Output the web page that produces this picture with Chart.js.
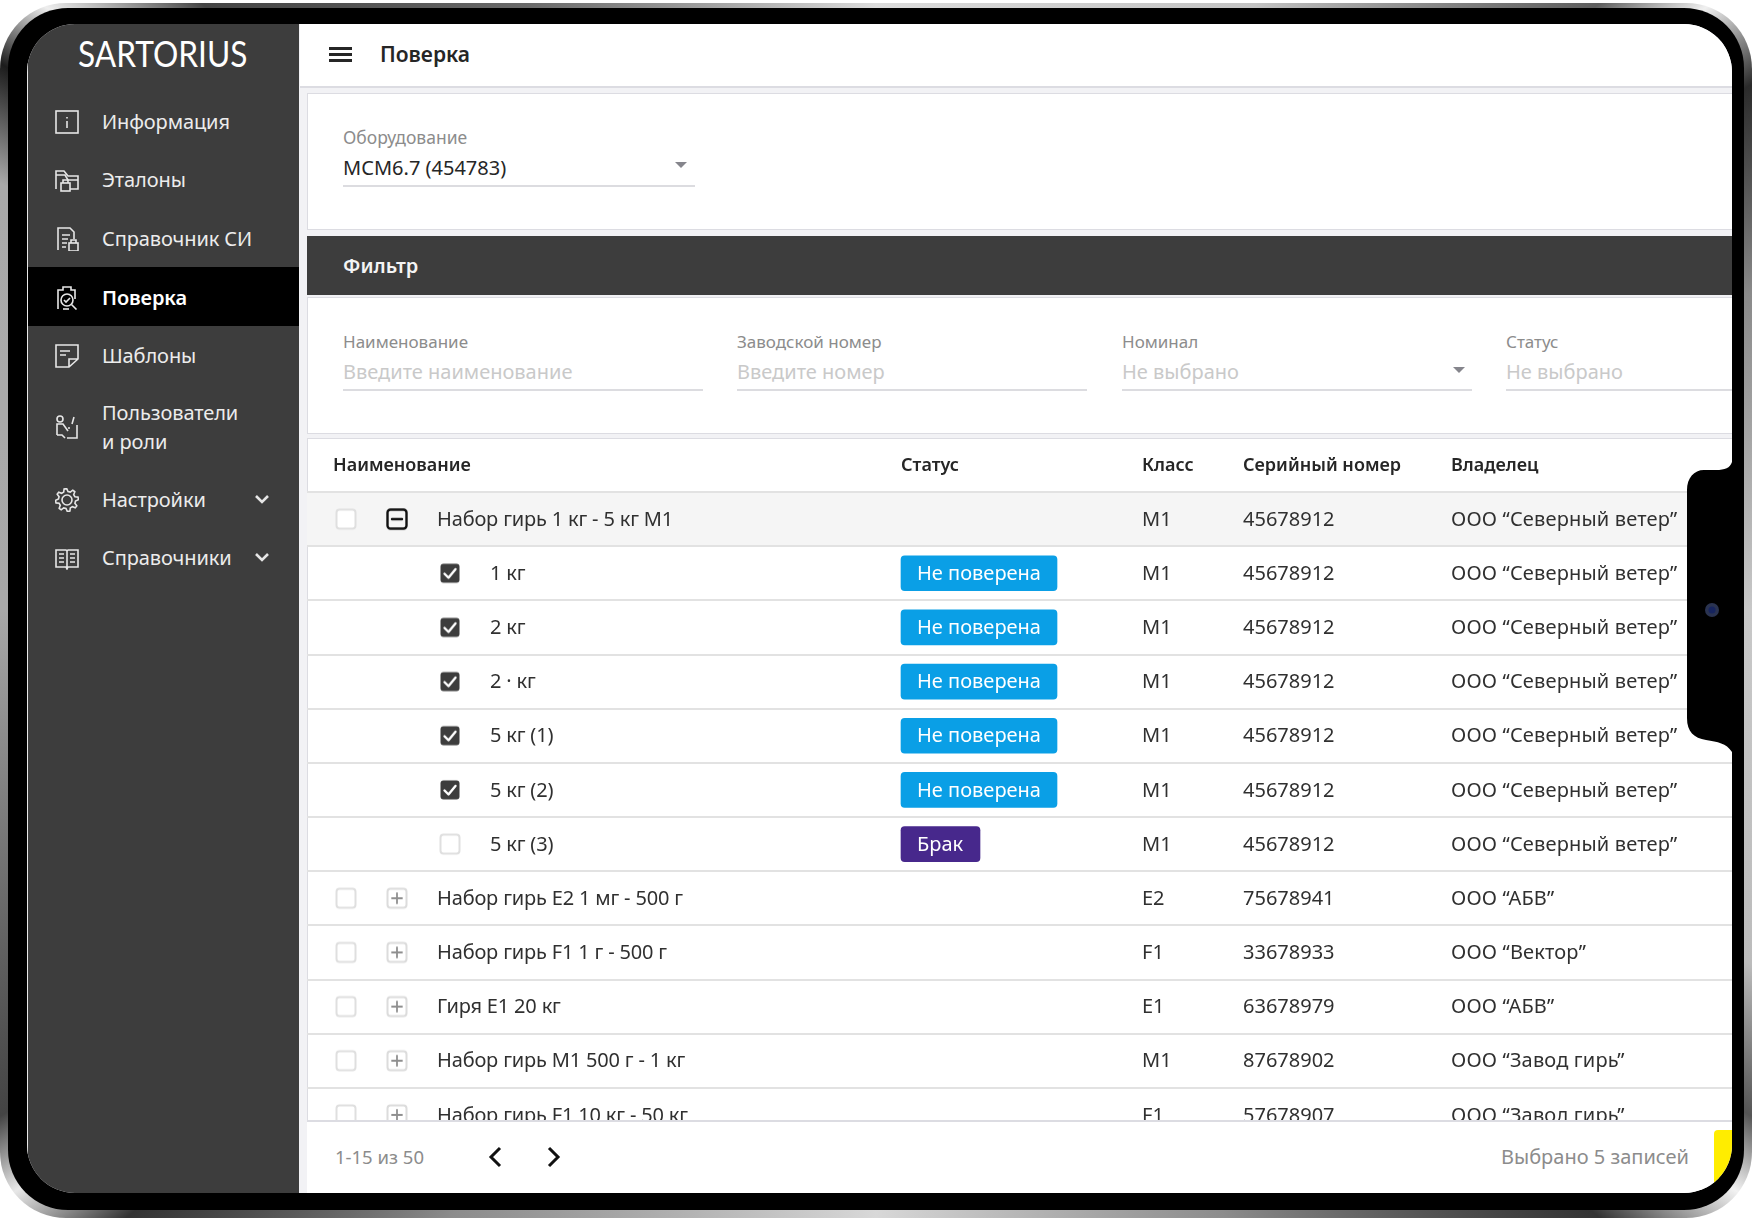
<!DOCTYPE html>
<html lang="ru">
<head>
<meta charset="utf-8">
<title>Поверка</title>
<script src="https://cdn.jsdelivr.net/npm/chart.js@4"></script>
<style>
    html, body { margin: 0; padding: 0; background: #fff; }
    body { width: 1753px; height: 1219px; position: relative; overflow: hidden; font-family: "Noto Sans", sans-serif; color: #262626; }
    .abs { position: absolute; }
    .t { position: absolute; white-space: nowrap; transform: translateY(-50%); line-height: 1.2; }

    /* корпус планшета */
    #frame { position: absolute; left: 0; top: 3px; width: 1752px; height: 1215px; border-radius: 66px;
        background: conic-gradient(#dcdcdc 0deg, #c4c4c4 32deg, #5e5e5e 50deg, #f0f0f0 54deg, #2b2b2b 59deg, #8a8a8a 70deg, #c8c8c8 90deg, #bcbcbc 112deg, #555 120deg, #f2f2f2 124deg, #333 130deg, #8c8c8c 150deg, #d8d8d8 180deg, #8c8c8c 215deg, #333 231deg, #e8e8e8 236deg, #444 240deg, #a8a8a8 270deg, #aaa 296deg, #1c1c1c 302deg, #eee 306deg, #444 312deg, #6a6a6a 330deg, #dcdcdc 360deg); }
    #bezel { position: absolute; left: 8px; top: 8px; width: 1736px; height: 1202px; border-radius: 60px; background: #000; }
    #screen { position: absolute; left: 0; top: 0; width: 1753px; height: 1219px; background: #f2f2f5; clip-path: inset(24px 21px 26px 27px round 48px); }

    #sidebar { position: absolute; left: 27px; top: 24px; width: 272px; height: 1169px; background: #3d3d3d; border-left: 1px solid #e8e8e8; box-sizing: border-box; }
    .nav { color: #ececec; font-size: 20px; left: 102px; letter-spacing: -0.1px; }
    #activeBand { position: absolute; left: 28px; top: 267px; width: 271px; height: 59px; background: #000; }
    .card { position: absolute; left: 307px; width: 1425px; background: #fff; box-sizing: border-box; border: 1px solid #dcdce2; border-right: 0; }
    .lbl { color: #8c8c8c; font-size: 17px; }
    .ph { color: #c9c9c9; font-size: 20px; }
    .line { position: absolute; height: 2px; background: #dcdce0; }
    .arrow { position: absolute; width: 0; height: 0; border-left: 6px solid transparent; border-right: 6px solid transparent; border-top: 6px solid #85858c; }
    #chartBox { position: absolute; left: 307px; top: 439px; width: 1425px; height: 703px; }
    #footer { position: absolute; left: 307px; top: 1120px; width: 1425px; height: 73px; background: #fff; border-top: 2px solid #dcdce2; box-sizing: border-box; }
    #notch { position: absolute; left: 1680px; top: 462px; width: 60px; height: 290px; }
    svg.icon { position: absolute; fill: none; stroke: #e6e6e6; stroke-width: 1.6; }
</style>
</head>
<body>
<div id="frame"></div>
<div id="bezel"></div>
<div id="screen">
    <div id="sidebar"></div>
    <div id="activeBand"></div>
    <div class="t" id="logo" style="left:78px;top:53px;font-family:Lato;font-weight:400;font-size:37px;color:#fff;transform:translateY(-50%) scaleX(0.855);transform-origin:left center;">SARTORIUS</div>
    <div id="nav"></div>

    <!-- верхняя панель -->
    <div class="abs" style="left:300px;top:24px;width:1432px;height:62px;background:#fff;border-bottom:2px solid #dcdce2;"></div>
    <div class="abs" style="left:329px;top:47px;width:23px;height:2.5px;background:#262626;"></div>
    <div class="abs" style="left:329px;top:53px;width:23px;height:2.5px;background:#262626;"></div>
    <div class="abs" style="left:329px;top:59px;width:23px;height:2.5px;background:#262626;"></div>
    <div class="t" style="left:380px;top:54.5px;font-size:21px;font-weight:600;color:#262626;">Поверка</div>

    <!-- оборудование -->
    <div class="card" style="top:93px;height:137px;"></div>
    <div class="t lbl" style="left:343px;top:137px;font-size:17.5px;">Оборудование</div>
    <div class="t" style="left:343px;top:167.5px;font-size:20px;color:#262626;">МСМ6.7 (454783)</div>
    <div class="line" style="left:343px;top:185px;width:352px;"></div>
    <div class="arrow" style="left:675px;top:162px;"></div>

    <!-- фильтр -->
    <div class="abs" style="left:307px;top:236px;width:1425px;height:59px;background:#3d3d3d;"></div>
    <div class="t" style="left:343px;top:266px;font-size:20px;font-weight:600;color:#f4f4f4;">Фильтр</div>
    <div class="card" style="top:297px;height:137px;"></div>
    <div class="t lbl" style="left:343px;top:342px;">Наименование</div>
    <div class="t ph" style="left:343px;top:372px;">Введите наименование</div>
    <div class="line" style="left:343px;top:389px;width:360px;"></div>
    <div class="t lbl" style="left:737px;top:342px;">Заводской номер</div>
    <div class="t ph" style="left:737px;top:372px;">Введите номер</div>
    <div class="line" style="left:737px;top:389px;width:350px;"></div>
    <div class="t lbl" style="left:1122px;top:342px;">Номинал</div>
    <div class="t ph" style="left:1122px;top:372px;">Не выбрано</div>
    <div class="line" style="left:1122px;top:389px;width:350px;"></div>
    <div class="arrow" style="left:1453px;top:367px;"></div>
    <div class="t lbl" style="left:1506px;top:342px;">Статус</div>
    <div class="t ph" style="left:1506px;top:372px;">Не выбрано</div>
    <div class="line" style="left:1506px;top:389px;width:226px;"></div>

    <!-- таблица -->
    <div class="card" style="top:438px;height:700px;"></div>
    <div id="chartBox"><canvas id="tableChart"></canvas></div>

    <div id="footer"></div>
    <div class="t" style="left:335px;top:1157px;font-size:18.5px;color:#8c8c8c;">1-15 из 50</div>
    <svg class="icon" style="left:486px;top:1145px;stroke:#111;stroke-width:3;" width="20" height="24"><path d="M14 3 L5 12 L14 21"/></svg>
    <svg class="icon" style="left:543px;top:1145px;stroke:#111;stroke-width:3;" width="20" height="24"><path d="M6 3 L15 12 L6 21"/></svg>
    <div class="t" style="left:1501px;top:1157px;font-size:20px;color:#8c8c8c;">Выбрано 5 записей</div>
    <div class="abs" style="left:1714px;top:1130px;width:20px;height:55px;background:#ffed00;border-radius:4px 0 0 4px;"></div>
</div>

<!-- выступ с камерой -->
<svg id="notch" viewBox="0 0 60 290">
    <path fill="#000" d="M60 0 L52 0 C50 6 45 8 36 8 L24 8 C14 8 7 16 7 28 L7 256 C7 270 14 276 26 278 C38 280 46 281 52 290 L60 290 Z"/>
    <circle cx="32" cy="148" r="7" fill="#2a3350"/>
    <circle cx="32" cy="148" r="3.5" fill="#16245e"/>
</svg>

<script>
// Данные таблицы
const columnHeaders = ['Наименование', 'Статус', 'Класс', 'Серийный номер', 'Владелец'];
const rowNames = [
    'Набор гирь 1 кг - 5 кг М1', '1 кг', '2 кг', '2 · кг', '5 кг (1)', '5 кг (2)', '5 кг (3)',
    'Набор гирь Е2 1 мг - 500 г', 'Набор гирь F1 1 г - 500 г', 'Гиря Е1 20 кг',
    'Набор гирь М1 500 г - 1 кг', 'Набор гирь F1 10 кг - 50 кг'
];
const rowParents = [true, false, false, false, false, false, false, true, true, true, true, true];
const rowChecked = [false, true, true, true, true, true, false, false, false, false, false, false];
const rowExpanded = [true, null, null, null, null, null, null, false, false, false, false, false];
const rowStatuses = [null, 'Не поверена', 'Не поверена', 'Не поверена', 'Не поверена', 'Не поверена', 'Брак', null, null, null, null, null];
const rowClasses = ['M1', 'M1', 'M1', 'M1', 'M1', 'M1', 'M1', 'E2', 'F1', 'E1', 'M1', 'F1'];
const rowSerials = ['45678912', '45678912', '45678912', '45678912', '45678912', '45678912', '45678912', '75678941', '33678933', '63678979', '87678902', '57678907'];
const rowOwners = [
    'ООО “Северный ветер”', 'ООО “Северный ветер”', 'ООО “Северный ветер”', 'ООО “Северный ветер”',
    'ООО “Северный ветер”', 'ООО “Северный ветер”', 'ООО “Северный ветер”',
    'ООО “АБВ”', 'ООО “Вектор”', 'ООО “АБВ”', 'ООО “Завод гирь”', 'ООО “Завод гирь”'
];
const navItems = ['Информация', 'Эталоны', 'Справочник СИ', 'Поверка', 'Шаблоны', 'Пользователи\nи роли', 'Настройки', 'Справочники'];

// Раскладка таблицы (единицы оси X = пиксели карточки)
const TABLE_WIDTH = 1425;
const COLUMN_STARTS = [26, 594, 835, 936, 1144];
const ROOT_CHECK_X = 39;
const EXPAND_X = 90;
const CHILD_CHECK_X = 143;
const ROOT_TEXT_X = 130;
const CHILD_TEXT_X = 183;
const STATUS_STYLE = {
    'Не поверена': { color: '#0a9fe6', width: 156 },
    'Брак': { color: '#47288c', width: 79 }
};
const TEXT_FONT = '20px "Noto Sans"';
const TEXT_COLOR = '#303030';

// Иконки-чекбоксы для точек
function makeIcon(draw) {
    const c = document.createElement('canvas');
    c.width = 24;
    c.height = 24;
    const g = c.getContext('2d');
    g.lineCap = 'round';
    g.lineJoin = 'round';
    draw(g);
    return c;
}
function box(g, stroke, lineW, fill) {
    g.beginPath();
    g.roundRect(2.5, 2.5, 19, 19, 3);
    if (fill) { g.fillStyle = fill; g.fill(); }
    if (stroke) { g.strokeStyle = stroke; g.lineWidth = lineW; g.stroke(); }
}
const iconChecked = makeIcon(g => {
    box(g, null, 0, '#3d3d3d');
    g.strokeStyle = '#fff';
    g.lineWidth = 2.4;
    g.beginPath(); g.moveTo(6.5, 12.5); g.lineTo(10.5, 16.5); g.lineTo(17.5, 8); g.stroke();
});
const iconEmpty = makeIcon(g => box(g, '#dfdfdf', 2, '#fff'));
const iconMinus = makeIcon(g => {
    box(g, '#111', 2.4, null);
    g.strokeStyle = '#111'; g.lineWidth = 2.4;
    g.beginPath(); g.moveTo(7, 12); g.lineTo(17, 12); g.stroke();
});
const iconPlus = makeIcon(g => {
    box(g, '#dcdcdc', 2, '#fff');
    g.strokeStyle = '#8f8f8f'; g.lineWidth = 1.8;
    g.beginPath(); g.moveTo(7, 12); g.lineTo(17, 12); g.moveTo(12, 7); g.lineTo(12, 17); g.stroke();
});

// Текст ячеек рисуем по шкалам графика
const cellTextPlugin = {
    id: 'cellText',
    afterDatasetsDraw(chart) {
        const { ctx, scales: { x, y } } = chart;
        ctx.save();
        ctx.font = TEXT_FONT;
        ctx.textBaseline = 'middle';
        ctx.textAlign = 'left';
        rowNames.forEach((name, i) => {
            const py = y.getPixelForValue(i) + 1;
            ctx.fillStyle = TEXT_COLOR;
            ctx.letterSpacing = '-0.17px';
            ctx.fillText(name, x.getPixelForValue(rowParents[i] ? ROOT_TEXT_X : CHILD_TEXT_X), py);
            ctx.letterSpacing = '0px';
            ctx.fillText(rowClasses[i], x.getPixelForValue(COLUMN_STARTS[2]), py);
            ctx.fillText(rowSerials[i], x.getPixelForValue(COLUMN_STARTS[3]), py);
            ctx.letterSpacing = '0.17px';
            ctx.fillText(rowOwners[i], x.getPixelForValue(COLUMN_STARTS[4]), py);
            ctx.letterSpacing = '0px';
            if (rowStatuses[i]) {
                ctx.fillStyle = '#fff';
                ctx.fillText(rowStatuses[i], x.getPixelForValue(COLUMN_STARTS[1] + 16), py);
            }
        });
        ctx.restore();
    }
};

function renderTable() {
    const statusX = COLUMN_STARTS[1];
    new Chart(document.getElementById('tableChart'), {
        type: 'bar',
        data: {
            labels: rowNames,
            datasets: [
                {
                    // подсветка раскрытой строки
                    data: rowExpanded.map(v => v === true ? [0, TABLE_WIDTH] : null),
                    backgroundColor: '#f5f5f5',
                    barPercentage: 1,
                    categoryPercentage: 1,
                    grouped: false,
                    order: 3
                },
                {
                    data: rowStatuses.map(s => s ? [statusX, statusX + STATUS_STYLE[s].width] : null),
                    backgroundColor: c => (rowStatuses[c.dataIndex] ? STATUS_STYLE[rowStatuses[c.dataIndex]].color : 'transparent'),
                    barThickness: 35,
                    borderRadius: 4,
                    borderSkipped: false,
                    grouped: false,
                    order: 2
                },
                {
                    type: 'line',
                    showLine: false,
                    data: rowParents.map(p => p ? ROOT_CHECK_X : CHILD_CHECK_X),
                    pointRadius: 10,
                    pointStyle: c => (rowChecked[c.dataIndex] ? iconChecked : iconEmpty),
                    order: 1
                },
                {
                    type: 'line',
                    showLine: false,
                    data: rowExpanded.map(v => v === null ? null : EXPAND_X),
                    pointRadius: 10,
                    pointStyle: c => (rowExpanded[c.dataIndex] ? iconMinus : iconPlus),
                    order: 1
                }
            ]
        },
        options: {
            indexAxis: 'y',
            responsive: true,
            maintainAspectRatio: false,
            animation: false,
            events: [],
            layout: { padding: 0, autoPadding: false },
            plugins: { legend: { display: false }, tooltip: { enabled: false } },
            scales: {
                x: {
                    type: 'linear',
                    position: 'top',
                    min: 0,
                    max: TABLE_WIDTH,
                    border: { display: false },
                    grid: { display: false, drawTicks: false },
                    afterBuildTicks: scale => { scale.ticks = COLUMN_STARTS.map(value => ({ value })); },
                    afterFit: scale => { scale.height = 53; scale.paddingLeft = 0; scale.paddingRight = 0; },
                    ticks: {
                        callback: (value, index) => columnHeaders[index],
                        align: 'start',
                        autoSkip: false,
                        maxRotation: 0,
                        padding: 15,
                        color: '#262626',
                        font: { family: 'Noto Sans', size: 18, weight: '600' }
                    }
                },
                y: {
                    type: 'category',
                    offset: true,
                    border: { display: false },
                    grid: { offset: true, color: '#e2e2e2', lineWidth: 2, drawTicks: false, z: 1 },
                    ticks: { display: false },
                    afterFit: scale => { scale.width = 0; }
                }
            }
        },
        plugins: [cellTextPlugin]
    });
}

// Шестерёнка для пункта «Настройки»
function gearPath() {
    let d = '';
    for (let k = 0; k < 8; k++) {
        const a = k * Math.PI / 4 - Math.PI / 8;
        const b = a + Math.PI / 4;
        const p = (r, t) => `${(12 + r * Math.cos(t)).toFixed(1)} ${(12 + r * Math.sin(t)).toFixed(1)}`;
        d += `${k ? 'L' : 'M'}${p(8.6, a)} L${p(11.4, a + 0.14)} A11.4 11.4 0 0 1 ${p(11.4, b - 0.42)} L${p(8.6, b - 0.28)} `;
    }
    return d + 'Z';
}

// Боковое меню
const navCenters = [122, 180, 239, 298, 356, 427, 500, 558];
const navIcons = [
    '<rect x="1" y="1" width="22" height="22"/><path d="M12 7v1.5M12 11v7"/>',
    '<path d="M1 21V3h8l4 5h10v13H15M1 7h9l3 5h10"/><rect x="6" y="15" width="9" height="8"/><path d="M8 15v-3h5v3"/>',
    '<path d="M3 23V1h12l4 4v7M7 8h8M7 12h6M7 16h5M7 20h4"/><rect x="14" y="16" width="9" height="8"/><path d="M16 16v-3h5v3"/>',
    '<path d="M3 23V4h5V1h8v3h4v9"/><path d="M8 23h6"/><circle cx="12" cy="14" r="6"/><path d="M9 14l2 2 4-4M16.5 18.5l5 5"/>',
    '<path d="M14 23H1V1h22v14zM14 23v-8h9M5 7h10M5 11h6"/>',
    '<circle cx="5" cy="4" r="3"/><path d="M2 20V9h6l5 7M2 20h5l3 3M13 13h2M22 10v13H12M19 2l-2 7"/>',
    '<circle cx="12" cy="12" r="5"/><path d="' + gearPath() + '"/>',
    '<path d="M1 4h10l1 1 1-1h10v17H13l-1 2-1-2H1zM12 5v16M4 8h5M4 12h5M4 16h5M15 8h5M15 12h5M15 16h5"/>'
];
function renderNav() {
    const nav = document.getElementById('nav');
    navItems.forEach((item, i) => {
        const lines = item.split('\n');
        lines.forEach((text, k) => {
            const top = navCenters[i] + (k - (lines.length - 1) / 2) * 29;
            const weight = i === 3 ? 'font-weight:600;color:#fff;' : '';
            nav.insertAdjacentHTML('beforeend', `<div class="t nav" style="top:${top}px;${weight}">${text}</div>`);
        });
        nav.insertAdjacentHTML('beforeend',
            `<svg class="icon" style="left:55px;top:${navCenters[i] - 12}px;" width="24" height="24" viewBox="0 0 24 24">${navIcons[i]}</svg>`);
        if (i >= 6) {
            nav.insertAdjacentHTML('beforeend',
                `<svg class="icon" style="left:252px;top:${navCenters[i] - 10}px;stroke-width:2.6;" width="20" height="20"><path d="M4 6l6 6 6-6"/></svg>`);
        }
    });
}

document.addEventListener('DOMContentLoaded', () => {
    renderNav();
    renderTable();
});
</script>
</body>
</html>
